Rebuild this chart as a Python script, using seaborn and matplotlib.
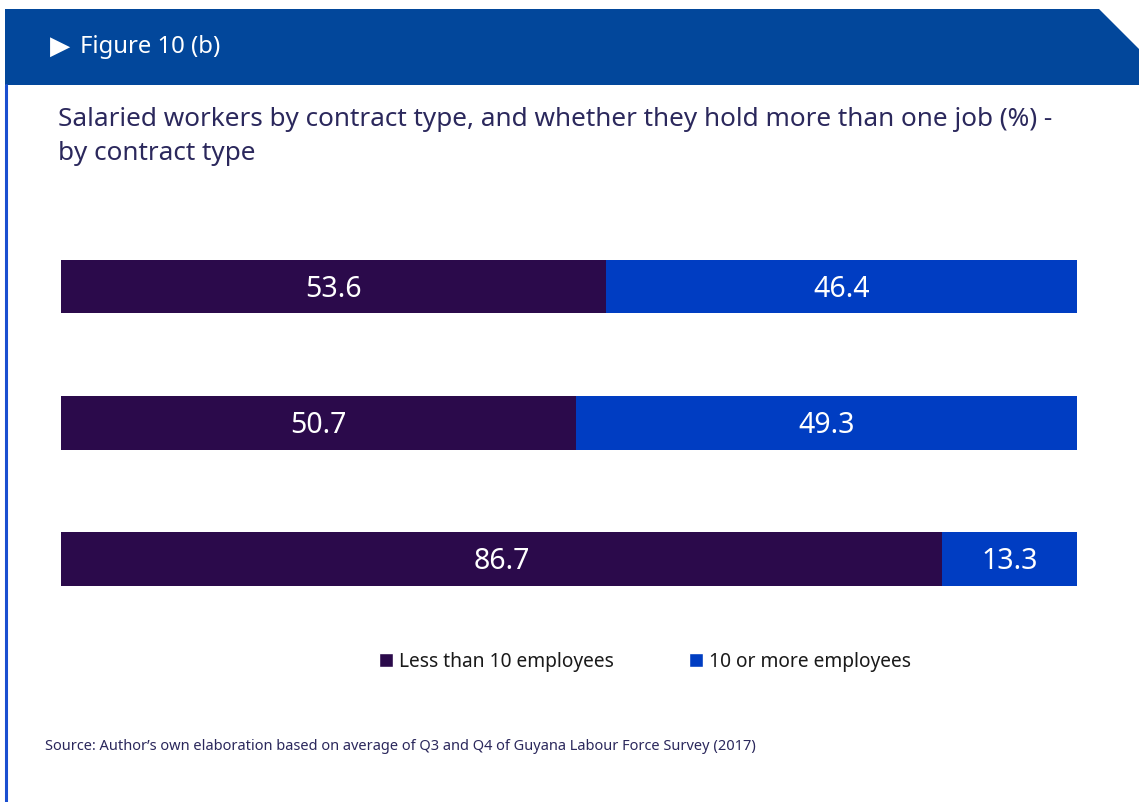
import matplotlib
matplotlib.use("Agg")
import matplotlib.pyplot as plt
from matplotlib.patches import Polygon, Patch
from matplotlib.lines import Line2D
import seaborn as sns
import pandas as pd

# Data
groups = ["Group A", "Group B", "Group C"]
less_than_10 = [53.6, 50.7, 86.7]
ten_or_more = [46.4, 49.3, 13.3]
series_names = ["Less than 10 employees", "10 or more employees"]

title = "Salaried workers by contract type, and whether they hold more than one job (%) -\nby contract type"
header = "Figure 10 (b)"
source = "Source: Author\u2019s own elaboration based on average of Q3 and Q4 of Guyana Labour Force Survey (2017)"

PURPLE = "#2b0a4b"
BLUE = "#003dc2"
HEADER_BLUE = "#02479b"
TEXT = "#2b285c"

sns.set_theme(style="white")
plt.rcParams["font.family"] = ["Noto Sans", "DejaVu Sans"]

df = pd.DataFrame({
    "group": groups,
    "less": less_than_10,
    "more": ten_or_more,
})
df["total"] = df["less"] + df["more"]

W, H = 1139, 802
fig = plt.figure(figsize=(W / 100, H / 100), dpi=100)


def fx(x):
    return x / W


def fy(y):
    return 1 - y / H


# header band with cut corner
band = Polygon(
    [(fx(5), fy(9)), (fx(1099), fy(9)), (fx(1139), fy(49)),
     (fx(1139), fy(85)), (fx(5), fy(85))],
    closed=True, transform=fig.transFigure, facecolor=HEADER_BLUE,
    edgecolor="none", zorder=0)
fig.patches.append(band)
fig.lines.append(Line2D([fx(5.5), fx(5.5)], [fy(85), fy(802)],
                        transform=fig.transFigure, color="#1a4fd0", lw=2.2))

fig.text(fx(50), fy(47), "\u25B6", color="white", fontsize=19,
         va="center", ha="left", family=["DejaVu Sans"])
fig.text(fx(80), fy(47), header, color="white", fontsize=17.2,
         va="center", ha="left")

fig.text(fx(58), fy(107), title, color=TEXT, fontsize=18.8, va="top",
         ha="left", linespacing=1.48)

ax = fig.add_axes([fx(61), fy(627), fx(1077) - fx(61), (627 - 218.5) / H])

bar_w = 53.5 / 136
sns.barplot(data=df, y="group", x="total", orient="h", color=BLUE,
            width=bar_w, saturation=1, ax=ax, linewidth=0)
sns.barplot(data=df, y="group", x="less", orient="h", color=PURPLE,
            width=bar_w, saturation=1, ax=ax, linewidth=0)

base_off = 10.5 / 136
for i, (a, b) in enumerate(zip(df["less"], df["more"])):
    ax.text(a / 2, i + base_off, f"{a:.1f}", color="white", fontsize=20.5,
            ha="center", va="baseline")
    ax.text(a + b / 2, i + base_off, f"{b:.1f}", color="white", fontsize=20.5,
            ha="center", va="baseline")

ax.set_xlim(0, 100)
ax.set_ylim(2.5, -0.5)
ax.set_xlabel("")
ax.set_ylabel("")
ax.set_xticks([])
ax.set_yticks([])
for s in ax.spines.values():
    s.set_visible(False)
ax.patch.set_alpha(0)

handles = [Patch(facecolor=PURPLE, label=series_names[0]),
           Patch(facecolor=BLUE, label=series_names[1])]
fig.legend(handles=handles, loc="center", bbox_to_anchor=(fx(645), fy(662)),
           ncol=2, frameon=False, fontsize=13.8, handlelength=0.75,
           handleheight=0.75, handletextpad=0.3, columnspacing=3.9,
           labelcolor="#1a1a1a")

fig.text(fx(45), fy(746), source, color=TEXT, fontsize=10.5, va="center",
         ha="left")

fig.savefig("out.png", dpi=100, facecolor="white")
